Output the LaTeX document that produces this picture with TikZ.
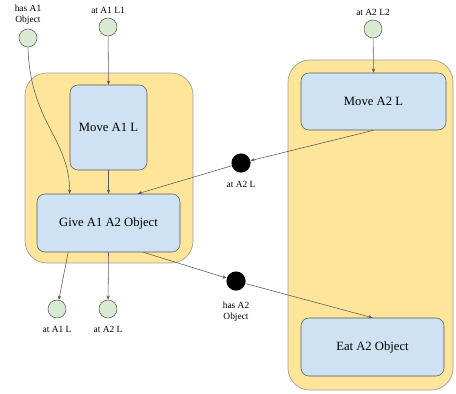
\documentclass[tikz,border=0pt]{standalone}
\usepackage{fontspec}
\setmainfont{Liberation Serif}
\usetikzlibrary{arrows.meta}
\definecolor{laneyellow}{HTML}{FFE599}
\definecolor{actionblue}{HTML}{CFE2F3}
\definecolor{factgreen}{HTML}{D9EAD3}
\definecolor{edgegray}{HTML}{595959}
\tikzset{
  lane/.style={draw=gray!75, fill=laneyellow, rounded corners=5.5mm, line width=0.5pt},
  action/.style={draw=edgegray, fill=actionblue, rounded corners=2mm, inner sep=0pt,
    font=\fontsize{9}{10}\selectfont},
  fact/.style={circle, draw=edgegray, fill=factgreen, minimum size=4.5mm, inner sep=0pt},
  token/.style={circle, fill=black, minimum size=4.8mm, inner sep=0pt},
  lbl/.style={font=\fontsize{6.7}{7.6}\selectfont, align=center, inner sep=0.5pt},
  flow/.style={draw=edgegray, line width=0.4pt, -{Stealth[length=3pt,width=2.4pt]}},
}

\begin{document}
\begin{tikzpicture}[x=0.25mm,y=-0.25mm]
  \useasboundingbox (0,0) rectangle (456,393);

  % Drawing the two lanes
  \draw[lane] (25,73) rectangle (193,263);
  \draw[lane] (288,60) rectangle (453,390);

  % Action boxes
  \node[action, minimum width=19.25mm, minimum height=21.25mm] (moveA) at (108.5,127.5) {Move A1 L};
  \node[action, minimum width=35.75mm, minimum height=14.5mm] (give) at (108.5,223) {Give A1 A2 Object};
  \node[action, minimum width=36.25mm, minimum height=14.25mm] (moveB) at (373.5,101.5) {Move A2 L};
  \node[action, minimum width=35.75mm, minimum height=14.5mm] (eat) at (372.5,347) {Eat A2 Object};

  % Facts (green) and tokens (black)
  \node[fact, label={[lbl,label distance=0.8mm]above:{has A1\\Object}}] (hasAone) at (28,38) {};
  \node[fact, label={[lbl,label distance=0.8mm]above:at A1 L1}] (atAoneLone) at (108,27) {};
  \node[fact, label={[lbl,label distance=0.8mm]above:at A2 L2}] (atAtwoLtwo) at (373,29) {};
  \node[fact, label={[lbl,label distance=1.8mm]below:at A1 L}] (atAoneL) at (57,309) {};
  \node[fact, label={[lbl,label distance=1.8mm]below:at A2 L}] (atAtwoL) at (108,309) {};
  \node[token, label={[lbl,label distance=1.8mm]below:at A2 L}] (tokAtwoL) at (241,163) {};
  \node[token, label={[lbl,label distance=2.5mm]below:{has A2\\Object}}] (tokHasAtwo) at (236,281) {};

  % Connectors
  \draw[flow] (hasAone.south) .. controls +(2,75) and +(0,-55) .. (give.143);
  \draw[flow] (atAoneLone) -- (moveA.north);
  \draw[flow] (moveA.south) -- (give.north);
  \draw[flow] (atAtwoLtwo) -- (moveB.north);
  \draw[flow] (moveB.south) -- (tokAtwoL);
  \draw[flow] (tokAtwoL) -- (give.45);
  \draw[flow] (give.-144) -- (atAoneL);
  \draw[flow] (give.south) -- (atAtwoL);
  \draw[flow] (give.-40) -- (tokHasAtwo);
  \draw[flow] (tokHasAtwo) -- (eat.north);
\end{tikzpicture}
\end{document}
